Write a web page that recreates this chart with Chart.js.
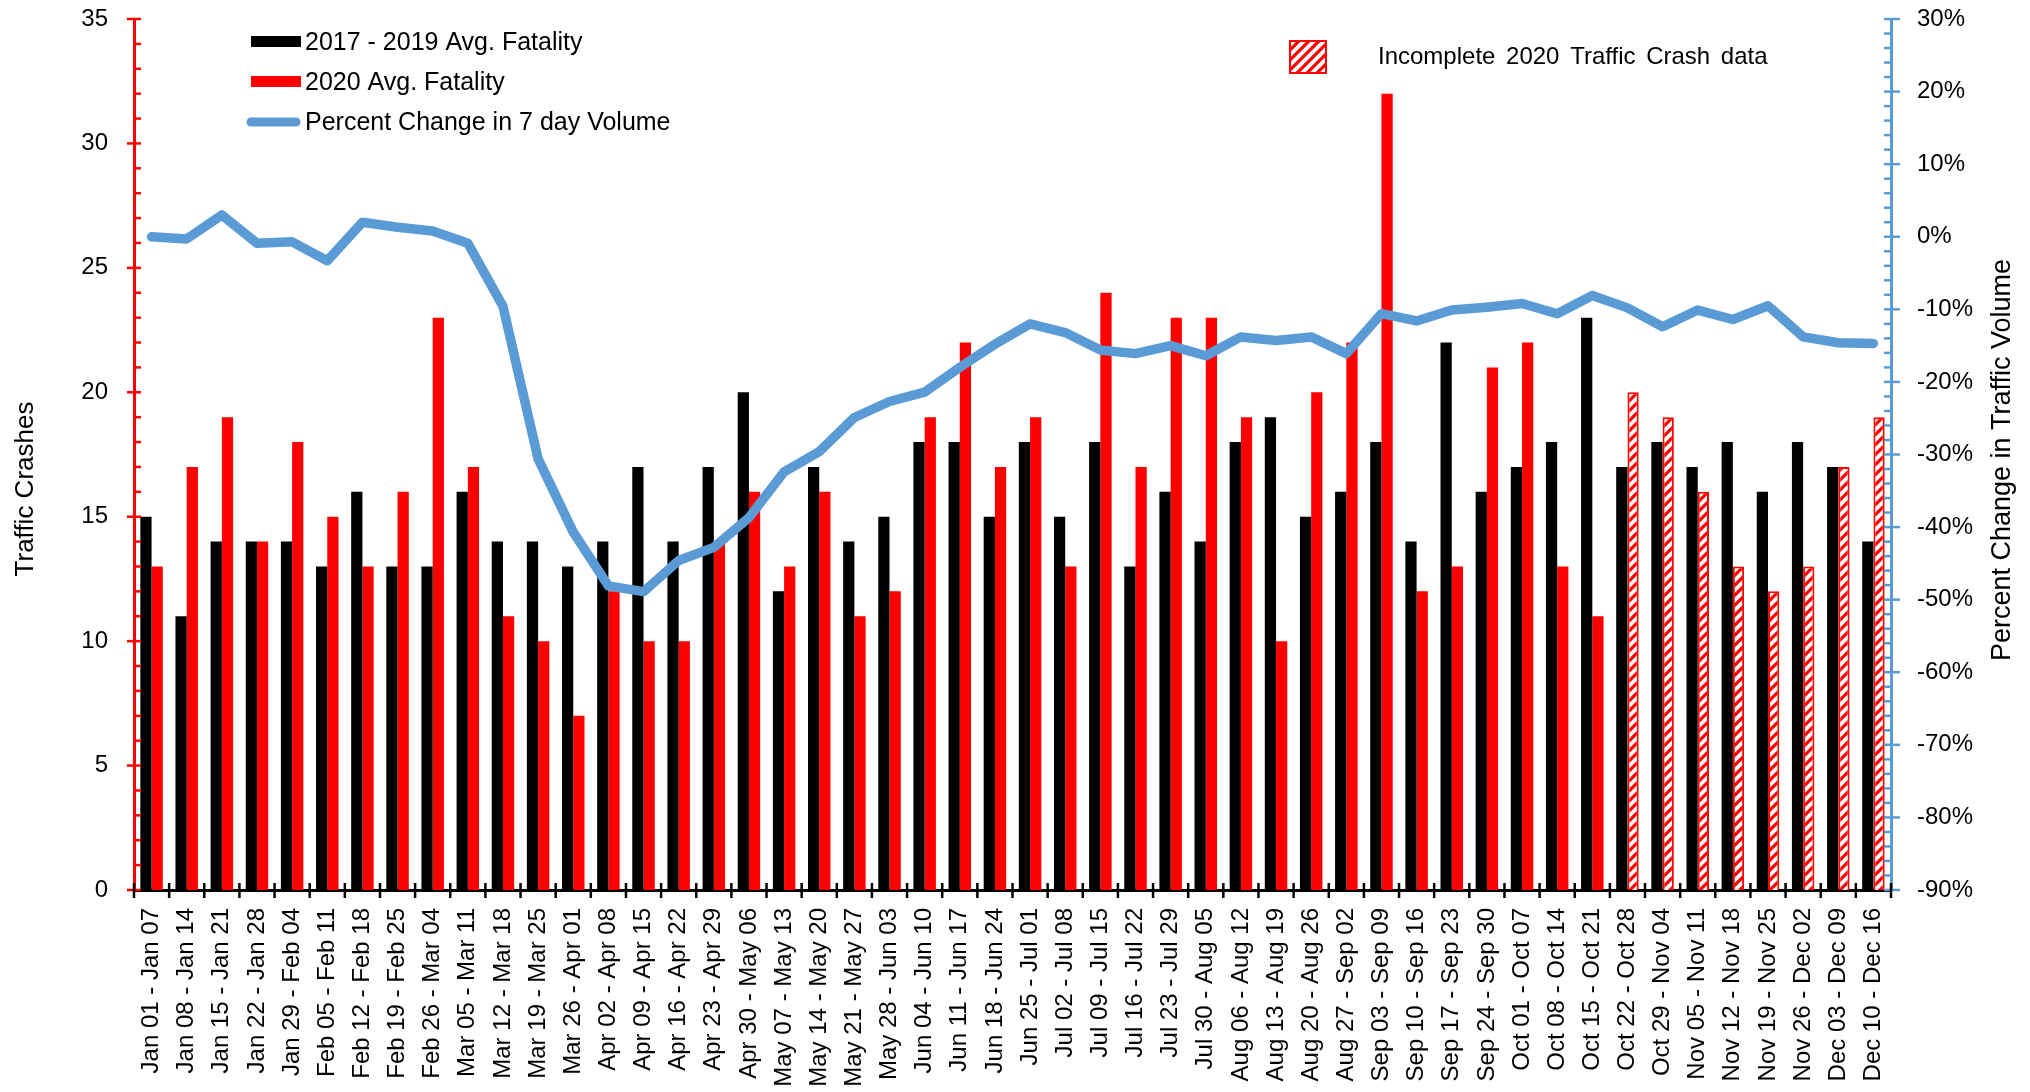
<!DOCTYPE html>
<html>
<head>
<meta charset="utf-8">
<title>Traffic Crashes and Traffic Volume 2020</title>
<script src="https://cdn.jsdelivr.net/npm/chart.js@4.4.1/dist/chart.umd.min.js"></script>
<style>
    html, body { margin: 0; padding: 0; background: #fff; }
    #crash-chart { display: block; }
</style>
</head>
<body>
<canvas id="crash-chart" width="2030" height="1092"></canvas>
<script>
'use strict';

var weeks = [
    "Jan 01 - Jan 07", "Jan 08 - Jan 14", "Jan 15 - Jan 21", "Jan 22 - Jan 28", "Jan 29 - Feb 04",
    "Feb 05 - Feb 11", "Feb 12 - Feb 18", "Feb 19 - Feb 25", "Feb 26 - Mar 04", "Mar 05 - Mar 11",
    "Mar 12 - Mar 18", "Mar 19 - Mar 25", "Mar 26 - Apr 01", "Apr 02 - Apr 08", "Apr 09 - Apr 15",
    "Apr 16 - Apr 22", "Apr 23 - Apr 29", "Apr 30 - May 06", "May 07 - May 13", "May 14 - May 20",
    "May 21 - May 27", "May 28 - Jun 03", "Jun 04 - Jun 10", "Jun 11 - Jun 17", "Jun 18 - Jun 24",
    "Jun 25 - Jul 01", "Jul 02 - Jul 08", "Jul 09 - Jul 15", "Jul 16 - Jul 22", "Jul 23 - Jul 29",
    "Jul 30 - Aug 05", "Aug 06 - Aug 12", "Aug 13 - Aug 19", "Aug 20 - Aug 26", "Aug 27 - Sep 02",
    "Sep 03 - Sep 09", "Sep 10 - Sep 16", "Sep 17 - Sep 23", "Sep 24 - Sep 30", "Oct 01 - Oct 07",
    "Oct 08 - Oct 14", "Oct 15 - Oct 21", "Oct 22 - Oct 28", "Oct 29 - Nov 04", "Nov 05 - Nov 11",
    "Nov 12 - Nov 18", "Nov 19 - Nov 25", "Nov 26 - Dec 02", "Dec 03 - Dec 09", "Dec 10 - Dec 16"
];

var avgFatality1719 = [15, 11, 14, 14, 14, 13, 16, 13, 13, 16,
                       14, 14, 13, 14, 17, 14, 17, 20, 12, 17,
                       14, 15, 18, 18, 15, 18, 15, 18, 13, 16,
                       14, 18, 19, 15, 16, 18, 14, 22, 16, 17,
                       18, 23, 17, 18, 17, 18, 16, 18, 17, 14];

var avgFatality2020 = [13, 17, 19, 14, 18, 15, 13, 16, 23, 17,
                       11, 10, 7, 12, 10, 10, 14, 16, 13, 16,
                       11, 12, 19, 22, 17, 19, 13, 24, 17, 23,
                       23, 19, 10, 20, 22, 32, 12, 13, 21, 22,
                       13, 11, 20, 19, 16, 13, 12, 13, 17, 19];

// percent change in 7 day traffic volume
var volumeChange = [0, -0.3, 3, -0.9, -0.7, -3.3, 2, 1.3, 0.8, -0.9,
                    -9.6, -30.6, -40.7, -48.1, -48.9, -44.6, -42.8, -38.7, -32.4, -29.6,
                    -24.9, -22.7, -21.4, -18, -14.8, -12, -13.2, -15.6, -16.1, -15,
                    -16.4, -13.8, -14.3, -13.8, -16.1, -10.6, -11.6, -10.1, -9.7, -9.2,
                    -10.6, -8.1, -9.8, -12.4, -10.1, -11.4, -9.5, -13.8, -14.6, -14.7];

// 2020 crash data is incomplete from this week on
var incompleteStart = weeks.indexOf("Oct 22 - Oct 28");

var RED = '#FF0000';
var BLUE = '#5B9BD5';
var FONT = "'Liberation Sans', Arial, sans-serif";

Chart.defaults.font.family = FONT;
Chart.defaults.color = '#000';

function $each(arr, fn) {
    for (var i = 0; i < arr.length; i++) fn(i, arr[i]);
}

var makeHatch = function(ctx) {
    var p = document.createElement('canvas');
    p.width = 10;
    p.height = 10;
    var g = p.getContext('2d');
    g.fillStyle = '#fff';
    g.fillRect(0, 0, 10, 10);
    g.strokeStyle = RED;
    g.lineWidth = 3.2;
    g.beginPath();
    g.moveTo(-5, 5); g.lineTo(5, -5);
    g.moveTo(0, 10); g.lineTo(10, 0);
    g.moveTo(5, 15); g.lineTo(15, 5);
    g.stroke();
    return ctx.createPattern(p, 'repeat');
};

var ctxCrash = document.getElementById('crash-chart').getContext('2d');
var hatch = makeHatch(ctxCrash);

var fill2020 = [];
var edge2020 = [];
$each(avgFatality2020, function(ix, v) {
    fill2020.push(ix >= incompleteStart ? hatch : RED);
    edge2020.push(ix >= incompleteStart ? 2 : 0);
});

// y axes: fixed width, no extra room above or below for the tick labels
var fitSide = function(width) {
    return function(s) {
        s.width = width;
        s.paddingTop = 0;
        s.paddingBottom = 0;
    };
};

// tick marks, axis titles and the two legends
var decorations = {
    id: 'decorations',
    afterDraw: function(chart) {
        var c = chart.ctx;
        var area = chart.chartArea;
        var sx = chart.scales.x, sy = chart.scales.y, sp = chart.scales.yPct;
        c.save();

        c.lineWidth = 2.5;
        c.strokeStyle = RED;
        $each(sy.ticks, function(ix, t) {
            var py = sy.getPixelForValue(t.value);
            var major = t.value % 5 === 0;
            c.beginPath();
            c.moveTo(area.left - (major ? 7 : 0), py);
            c.lineTo(area.left + 7, py);
            c.stroke();
        });

        c.strokeStyle = BLUE;
        $each(sp.ticks, function(ix, t) {
            var py = sp.getPixelForValue(t.value);
            var major = t.value % 10 === 0;
            c.beginPath();
            c.moveTo(area.right - 7, py);
            c.lineTo(area.right + (major ? 9 : 0), py);
            c.stroke();
        });

        c.strokeStyle = '#000';
        var step = (sx.right - sx.left) / weeks.length;
        for (var i = 0; i <= weeks.length; i++) {
            var px = sx.left + step * i;
            c.beginPath();
            c.moveTo(px, area.bottom - 7);
            c.lineTo(px, area.bottom + 8);
            c.stroke();
        }

        // axis titles
        c.fillStyle = '#000';
        c.textAlign = 'center';
        c.textBaseline = 'alphabetic';
        c.font = '26px ' + FONT;
        c.save();
        c.translate(33, 489);
        c.rotate(-Math.PI / 2);
        c.fillText('Traffic Crashes', 0, 0);
        c.restore();
        c.font = '27px ' + FONT;
        c.save();
        c.translate(2010, 460);
        c.rotate(-Math.PI / 2);
        c.fillText('Percent Change in Traffic Volume', 0, 0);
        c.restore();

        // legend, top left
        c.font = '25px ' + FONT;
        c.textAlign = 'left';
        c.textBaseline = 'middle';
        c.fillStyle = '#000';
        c.fillRect(251, 36, 50, 11);
        c.fillText('2017 - 2019 Avg. Fatality', 305, 43);
        c.fillStyle = RED;
        c.fillRect(251, 76, 50, 11);
        c.fillStyle = '#000';
        c.fillText('2020 Avg. Fatality', 305, 83);
        c.strokeStyle = BLUE;
        c.lineWidth = 9;
        c.lineCap = 'round';
        c.beginPath();
        c.moveTo(251, 122);
        c.lineTo(296, 122);
        c.stroke();
        c.fillText('Percent Change in 7 day Volume', 305, 123);

        // legend, top right
        c.fillStyle = hatch;
        c.fillRect(1290, 41, 36, 32);
        c.strokeStyle = RED;
        c.lineWidth = 2;
        c.lineCap = 'butt';
        c.strokeRect(1290, 41, 36, 32);
        c.fillStyle = '#000';
        c.font = '24px ' + FONT;
        if ('wordSpacing' in c) c.wordSpacing = '4px';
        c.fillText('Incomplete 2020 Traffic Crash data', 1378, 57);

        c.restore();
    }
};

var crashChart = new Chart(ctxCrash, {
    type: 'bar',
    data: {
        labels: weeks,
        datasets: [
            {
                type: 'line',
                label: 'Percent Change in 7 day Volume',
                data: volumeChange,
                yAxisID: 'yPct',
                borderColor: BLUE,
                backgroundColor: BLUE,
                borderWidth: 9.5,
                borderJoinStyle: 'round',
                borderCapStyle: 'round',
                pointRadius: 0,
                tension: 0,
                order: 0
            },
            {
                label: '2017 - 2019 Avg. Fatality',
                data: avgFatality1719,
                yAxisID: 'y',
                backgroundColor: '#000',
                borderWidth: 0,
                categoryPercentage: 0.64,
                barPercentage: 1.0,
                order: 1
            },
            {
                label: '2020 Avg. Fatality',
                data: avgFatality2020,
                yAxisID: 'y',
                backgroundColor: fill2020,
                borderColor: RED,
                borderWidth: edge2020,
                categoryPercentage: 0.64,
                barPercentage: 1.0,
                order: 1
            }
        ]
    },
    options: {
        responsive: false,
        animation: false,
        layout: { padding: { top: 19, left: 0, right: 0, bottom: 0 } },
        plugins: {
            legend: { display: false },
            tooltip: { enabled: false }
        },
        scales: {
            x: {
                z: 1,
                grid: { display: false, drawTicks: false },
                border: { display: true, color: '#000', width: 3 },
                ticks: {
                    autoSkip: false,
                    minRotation: 90,
                    maxRotation: 90,
                    padding: 18,
                    color: '#000',
                    font: { size: 24 }
                },
                afterFit: function(s) { s.height = 202; }
            },
            y: {
                z: 1,
                position: 'left',
                min: 0,
                max: 35,
                grid: { display: false, drawTicks: false },
                border: { display: true, color: RED, width: 3 },
                ticks: {
                    stepSize: 1,
                    autoSkip: false,
                    maxTicksLimit: 100,
                    padding: 26,
                    color: '#000',
                    font: { size: 24 },
                    callback: function(v) { return v % 5 === 0 ? v : ''; }
                },
                afterFit: fitSide(134)
            },
            yPct: {
                z: 1,
                position: 'right',
                min: -90,
                max: 30,
                grid: { display: false, drawTicks: false },
                border: { display: true, color: BLUE, width: 3 },
                ticks: {
                    stepSize: 2,
                    autoSkip: false,
                    maxTicksLimit: 100,
                    padding: 26,
                    color: '#000',
                    font: { size: 24 },
                    callback: function(v) { return v % 10 === 0 ? v + '%' : ''; }
                },
                afterFit: fitSide(139)
            }
        }
    },
    plugins: [decorations]
});
</script>
</body>
</html>
